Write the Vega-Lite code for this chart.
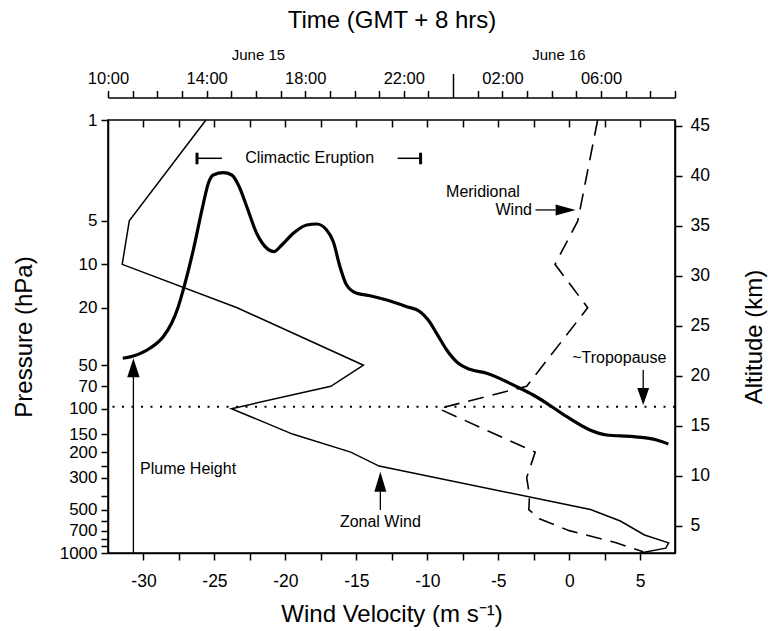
{
  "$schema": "https://vega.github.io/schema/vega-lite/v6.json",
  "width": 567,
  "height": 433,
  "autosize": {"type": "none"},
  "padding": {"left": 108, "top": 120, "right": 93, "bottom": 78},
  "background": "white",
  "config": {
    "font": "Liberation Sans",
    "view": {"stroke": "black", "strokeWidth": 1.6},
    "axis": {
      "domainColor": "black", "domainWidth": 1.5, "tickColor": "black", "tickWidth": 1.5,
      "labelColor": "black", "titleColor": "black", "labelFont": "Liberation Sans", "titleFont": "Liberation Sans",
      "titleFontWeight": "normal", "grid": false, "labelFontSize": 17.5, "titleFontSize": 24,
      "labelFlush": false, "labelOverlap": false
    },
    "text": {"font": "Liberation Sans", "fontSize": 16, "color": "black"}
  },
  "datasets": {
    "zonal": [
      {"p": 1, "u": -25.6}, {"p": 5, "u": -31.0}, {"p": 10, "u": -31.5}, {"p": 20, "u": -23.4},
      {"p": 50, "u": -14.5}, {"p": 70, "u": -16.8}, {"p": 100, "u": -23.8}, {"p": 150, "u": -19.5},
      {"p": 200, "u": -15.4}, {"p": 250, "u": -13.4}, {"p": 500, "u": 1.5}, {"p": 600, "u": 3.6},
      {"p": 750, "u": 5.3}, {"p": 850, "u": 7.0}, {"p": 925, "u": 6.8}, {"p": 1000, "u": 5.0}
    ],
    "meridional": [
      {"p": 1, "v": 2.0}, {"p": 5, "v": 0.6}, {"p": 10, "v": -1.0}, {"p": 20, "v": 1.3},
      {"p": 70, "v": -3.0}, {"p": 100, "v": -9.2}, {"p": 200, "v": -2.4}, {"p": 300, "v": -3.0},
      {"p": 400, "v": -2.8}, {"p": 500, "v": -2.85}, {"p": 580, "v": -2.1}, {"p": 700, "v": 0.0},
      {"p": 850, "v": 3.3}, {"p": 980, "v": 5.2}
    ],
    "plume": [
      {"t": 10.6, "z": 21.74}, {"t": 11.03, "z": 21.97}, {"t": 11.7, "z": 22.74}, {"t": 12.24, "z": 23.9},
      {"t": 12.58, "z": 25.24}, {"t": 12.85, "z": 26.9}, {"t": 13.05, "z": 28.57}, {"t": 13.46, "z": 32.57},
      {"t": 13.87, "z": 37.24}, {"t": 14.07, "z": 39.24}, {"t": 14.27, "z": 40.07}, {"t": 14.68, "z": 40.3},
      {"t": 15.02, "z": 40.07}, {"t": 15.29, "z": 39.07}, {"t": 15.63, "z": 36.9}, {"t": 16.03, "z": 34.24},
      {"t": 16.44, "z": 32.74}, {"t": 16.73, "z": 32.4}, {"t": 17.05, "z": 33.07}, {"t": 17.52, "z": 34.24},
      {"t": 18.06, "z": 35.07}, {"t": 18.47, "z": 35.17}, {"t": 18.87, "z": 34.57}, {"t": 19.14, "z": 33.4},
      {"t": 19.41, "z": 30.9}, {"t": 19.68, "z": 29.07}, {"t": 20.09, "z": 28.24}, {"t": 20.63, "z": 28.0},
      {"t": 21.31, "z": 27.57}, {"t": 22.12, "z": 26.9}, {"t": 22.66, "z": 26.4}, {"t": 22.99, "z": 25.57},
      {"t": 23.33, "z": 24.24}, {"t": 23.74, "z": 22.57}, {"t": 24.21, "z": 21.24}, {"t": 24.68, "z": 20.64},
      {"t": 25.36, "z": 20.24}, {"t": 26.58, "z": 18.9}, {"t": 27.25, "z": 18.07}, {"t": 27.8, "z": 17.24},
      {"t": 28.61, "z": 15.9}, {"t": 29.55, "z": 14.57}, {"t": 30.23, "z": 14.07}, {"t": 31.31, "z": 13.9},
      {"t": 32.26, "z": 13.57}, {"t": 32.73, "z": 13.17}
    ]
  },
  "resolve": {"scale": {"x": "independent", "y": "independent"}},
  "layer": [
    {
      "resolve": {"axis": {"x": "independent", "y": "independent"}},
      "layer": [
        {
          "data": {"name": "zonal"},
          "mark": {"type": "line", "color": "black", "strokeWidth": 1.5},
          "encoding": {
            "x": {"field": "u", "type": "quantitative",
              "scale": {"domain": [-32.5, 7.45], "nice": false, "zero": false},
              "axis": {"orient": "bottom", "values": [-30, -27.5, -25, -22.5, -20, -17.5, -15, -12.5, -10, -7.5, -5, -2.5, 0, 2.5, 5],
                "labelExpr": "datum.value % 5 == 0 ? '' + datum.value : ''",
                "tickSize": 7, "labelPadding": 12, "title": "Wind Velocity (m s⁻¹)", "titlePadding": 13}},
            "y": {"field": "p", "type": "quantitative",
              "scale": {"type": "log", "domain": [1, 1000], "reverse": true, "nice": false},
              "axis": {"orient": "left", "values": [1, 5, 10, 20, 50, 70, 100, 150, 200, 250, 300, 400, 500, 600, 700, 800, 900, 1000],
                "labelExpr": "indexof([1, 5, 10, 20, 50, 70, 100, 150, 200, 300, 500, 700, 1000], datum.value) >= 0 ? '' + datum.value : ''",
                "tickSize": 7, "labelPadding": 4, "labelFontSize": 17, "title": "Pressure (hPa)", "titlePadding": 23}},
            "order": {"field": "p", "type": "quantitative"}
          }
        },
        {
          "data": {"name": "meridional"},
          "mark": {"type": "line", "color": "black", "strokeWidth": 1.6, "strokeDash": [16, 9]},
          "encoding": {
            "x": {"field": "v", "type": "quantitative",
              "scale": {"domain": [-32.5, 7.45], "nice": false, "zero": false},
              "axis": {"orient": "top", "values": [-30, -27.5, -25, -22.5, -20, -17.5, -15, -12.5, -10, -7.5, -5, -2.5, 0, 2.5, 5],
                "labels": false, "domain": false, "tickSize": -7, "title": null}},
            "y": {"field": "p", "type": "quantitative",
              "scale": {"type": "log", "domain": [1, 1000], "reverse": true, "nice": false}, "axis": null},
            "order": {"field": "p", "type": "quantitative"}
          }
        },
        {
          "data": {"values": [{"u": -13.31, "p": 607, "label": "Zonal Wind"}]},
          "mark": {"type": "text", "align": "center", "baseline": "middle", "fontSize": 16},
          "encoding": {
            "x": {"field": "u", "type": "quantitative", "scale": {"domain": [-32.5, 7.45], "nice": false, "zero": false}, "axis": null},
            "y": {"field": "p", "type": "quantitative", "scale": {"type": "log", "domain": [1, 1000], "reverse": true, "nice": false}, "axis": null},
            "text": {"field": "label"}
          }
        },
        {
          "data": {"values": [{"u": -3.48, "p": 3.14, "label": "Meridional"}, {"u": -2.63, "p": 4.2, "label": "Wind"}]},
          "mark": {"type": "text", "align": "right", "baseline": "middle", "fontSize": 16},
          "encoding": {
            "x": {"field": "u", "type": "quantitative", "scale": {"domain": [-32.5, 7.45], "nice": false, "zero": false}, "axis": null},
            "y": {"field": "p", "type": "quantitative", "scale": {"type": "log", "domain": [1, 1000], "reverse": true, "nice": false}, "axis": null},
            "text": {"field": "label"}
          }
        },
        {
          "data": {"values": [{"u": -13.31, "u2": -13.31, "p": 376, "p2": 504}, {"u": -2.38, "u2": -0.97, "p": 4.2, "p2": 4.2}]},
          "mark": {"type": "rule", "color": "black", "strokeWidth": 1.3},
          "encoding": {
            "x": {"field": "u", "type": "quantitative", "scale": {"domain": [-32.5, 7.45], "nice": false, "zero": false}, "axis": null},
            "x2": {"field": "u2"},
            "y": {"field": "p", "type": "quantitative", "scale": {"type": "log", "domain": [1, 1000], "reverse": true, "nice": false}, "axis": null},
            "y2": {"field": "p2"}
          }
        },
        {
          "data": {"values": [{"u": -13.31, "p": 273.4}]},
          "mark": {"type": "point", "shape": "M0,0L-0.6,2L0.6,2Z", "size": 400, "filled": true, "color": "black", "opacity": 1, "strokeWidth": 0},
          "encoding": {
            "x": {"field": "u", "type": "quantitative", "scale": {"domain": [-32.5, 7.45], "nice": false, "zero": false}, "axis": null},
            "y": {"field": "p", "type": "quantitative", "scale": {"type": "log", "domain": [1, 1000], "reverse": true, "nice": false}, "axis": null}
          }
        },
        {
          "data": {"values": [{"u": 0.45, "p": 4.2}]},
          "mark": {"type": "point", "shape": "M0,0L-2,-0.55L-2,0.55Z", "size": 400, "filled": true, "color": "black", "opacity": 1, "strokeWidth": 0},
          "encoding": {
            "x": {"field": "u", "type": "quantitative", "scale": {"domain": [-32.5, 7.45], "nice": false, "zero": false}, "axis": null},
            "y": {"field": "p", "type": "quantitative", "scale": {"type": "log", "domain": [1, 1000], "reverse": true, "nice": false}, "axis": null}
          }
        }
      ]
    },
    {
      "resolve": {"axis": {"x": "independent", "y": "independent"}},
      "layer": [
        {
          "data": {"name": "plume"},
          "mark": {"type": "line", "color": "black", "strokeWidth": 3.2, "interpolate": "monotone"},
          "encoding": {
            "x": {"field": "t", "type": "quantitative",
              "scale": {"domain": [10, 33], "nice": false, "zero": false},
              "axis": {"orient": "top", "offset": 22.5, "values": [10, 11, 12, 13, 14, 15, 16, 17, 18, 19, 20, 21, 22, 23, 24, 25, 26, 27, 28, 29, 30, 31, 32, 33],
                "labelExpr": "(datum.value - 10) % 4 == 0 ? ((datum.value % 24) < 10 ? '0' : '') + (datum.value % 24) + ':00' : ''",
                "tickSize": {"condition": {"test": "datum.value == 24", "value": 24}, "value": 7},
                "labelPadding": 4, "labelFontSize": 16.5, "title": null}},
            "y": {"field": "z", "type": "quantitative",
              "scale": {"domain": [2.27, 45.57], "nice": false, "zero": false},
              "axis": {"orient": "right", "values": [5, 10, 15, 20, 25, 30, 35, 40, 45],
                "tickSize": 7, "labelPadding": 8, "title": "Altitude (km)", "titleAngle": 270, "titleBaseline": "top", "titlePadding": 33}}
          }
        },
        {
          "data": {"values": [{"z": 16.9}]},
          "mark": {"type": "rule", "color": "black", "strokeWidth": 2, "strokeDash": [2, 7.5]},
          "encoding": {
            "y": {"field": "z", "type": "quantitative", "scale": {"domain": [2.27, 45.57], "nice": false, "zero": false}, "axis": null}
          }
        },
        {
          "data": {"values": [{"t": 13.61, "t2": 14.62, "z": 41.74}, {"t": 21.75, "t2": 22.68, "z": 41.74}]},
          "mark": {"type": "rule", "color": "black", "strokeWidth": 1.5},
          "encoding": {
            "x": {"field": "t", "type": "quantitative",
              "scale": {"domain": [10, 33], "nice": false, "zero": false},
              "axis": {"orient": "top", "offset": 58, "values": [16.08, 28.27],
                "labelExpr": "datum.value < 24 ? 'June 15' : 'June 16'",
                "ticks": false, "tickSize": 0, "domain": false, "labelPadding": 0, "labelFontSize": 15,
                "title": "Time (GMT + 8 hrs)", "titlePadding": 15}},
            "x2": {"field": "t2"},
            "y": {"field": "z", "type": "quantitative", "scale": {"domain": [2.27, 45.57], "nice": false, "zero": false}, "axis": null}
          }
        },
        {
          "data": {"values": [{"t": 13.61, "z": 41.14, "z2": 42.3}, {"t": 22.68, "z": 41.14, "z2": 42.3}]},
          "mark": {"type": "rule", "color": "black", "strokeWidth": 3},
          "encoding": {
            "x": {"field": "t", "type": "quantitative", "scale": {"domain": [10, 33], "nice": false, "zero": false}, "axis": null},
            "y": {"field": "z", "type": "quantitative", "scale": {"domain": [2.27, 45.57], "nice": false, "zero": false}, "axis": null},
            "y2": {"field": "z2"}
          }
        },
        {
          "data": {"values": [{"t": 18.18, "z": 41.74, "label": "Climactic Eruption"}, {"t": 30.74, "z": 21.74, "label": "~Tropopause"}]},
          "mark": {"type": "text", "align": "center", "baseline": "middle", "fontSize": 16},
          "encoding": {
            "x": {"field": "t", "type": "quantitative", "scale": {"domain": [10, 33], "nice": false, "zero": false}, "axis": null},
            "y": {"field": "z", "type": "quantitative", "scale": {"domain": [2.27, 45.57], "nice": false, "zero": false}, "axis": null},
            "text": {"field": "label"}
          }
        },
        {
          "data": {"values": [{"t": 11.3, "z": 10.64, "label": "Plume Height"}]},
          "mark": {"type": "text", "align": "left", "baseline": "middle", "fontSize": 16},
          "encoding": {
            "x": {"field": "t", "type": "quantitative", "scale": {"domain": [10, 33], "nice": false, "zero": false}, "axis": null},
            "y": {"field": "z", "type": "quantitative", "scale": {"domain": [2.27, 45.57], "nice": false, "zero": false}, "axis": null},
            "text": {"field": "label"}
          }
        },
        {
          "data": {"values": [{"t": 11.03, "z": 2.27, "z2": 20.5}, {"t": 31.71, "z": 20.57, "z2": 18.3}]},
          "mark": {"type": "rule", "color": "black", "strokeWidth": 1.3},
          "encoding": {
            "x": {"field": "t", "type": "quantitative", "scale": {"domain": [10, 33], "nice": false, "zero": false}, "axis": null},
            "y": {"field": "z", "type": "quantitative", "scale": {"domain": [2.27, 45.57], "nice": false, "zero": false}, "axis": null},
            "y2": {"field": "z2"}
          }
        },
        {
          "data": {"values": [{"t": 11.03, "z": 21.74}]},
          "mark": {"type": "point", "shape": "M0,0L-0.65,2L0.65,2Z", "size": 361, "filled": true, "color": "black", "opacity": 1, "strokeWidth": 0},
          "encoding": {
            "x": {"field": "t", "type": "quantitative", "scale": {"domain": [10, 33], "nice": false, "zero": false}, "axis": null},
            "y": {"field": "z", "type": "quantitative", "scale": {"domain": [2.27, 45.57], "nice": false, "zero": false}, "axis": null}
          }
        },
        {
          "data": {"values": [{"t": 31.71, "z": 17.07}]},
          "mark": {"type": "point", "shape": "M0,0L-0.7,-2L0.7,-2Z", "size": 289, "filled": true, "color": "black", "opacity": 1, "strokeWidth": 0},
          "encoding": {
            "x": {"field": "t", "type": "quantitative", "scale": {"domain": [10, 33], "nice": false, "zero": false}, "axis": null},
            "y": {"field": "z", "type": "quantitative", "scale": {"domain": [2.27, 45.57], "nice": false, "zero": false}, "axis": null}
          }
        }
      ]
    }
  ]
}
